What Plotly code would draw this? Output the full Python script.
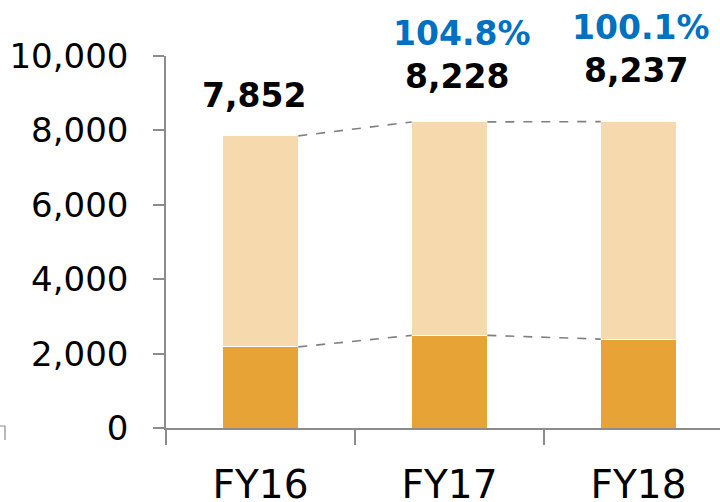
import plotly.graph_objects as go

categories = ["FY16", "FY17", "FY18"]
totals = [7852, 8228, 8237]
lower = [2180, 2490, 2390]
upper = [t - l for t, l in zip(totals, lower)]
growth = ["", "104.8%", "100.1%"]
y_ticks = [0, 2000, 4000, 6000, 8000, 10000]

LIGHT = "#F6DAAE"
DARK = "#E8A336"
AXIS = "#8C8C8C"
FONT = "DejaVu Sans"

W, H = 720, 502
ML, MR, MT, MB = 166, 0, 56, 74

fig = go.Figure()
fig.add_trace(go.Bar(x=categories, y=lower, marker=dict(color=DARK, line=dict(color="white", width=1)), width=0.4))
fig.add_trace(go.Bar(x=categories, y=upper, marker=dict(color=LIGHT, line=dict(color="white", width=1)), width=0.4))

# dashed connectors between neighbouring bars
for i in range(len(categories) - 1):
    for series in (totals, lower):
        fig.add_shape(type="line", xref="x", yref="y",
                      x0=i + 0.2, y0=series[i], x1=i + 0.8, y1=series[i + 1],
                      line=dict(color="#808080", width=1.6, dash="dash"))

total_shift = [40, 45, 51]
total_xshift = [-7, 7, -3]
pct_shift = [0, 88, 94]
pct_xshift = [0, 12, 2]
for i, c in enumerate(categories):
    fig.add_annotation(x=c, y=totals[i], xref="x", yref="y", text=f"<b>{totals[i]:,}</b>",
                       showarrow=False, yanchor="middle", yshift=total_shift[i], xshift=total_xshift[i],
                       font=dict(family=FONT, size=33, color="black"))
    if growth[i]:
        fig.add_annotation(x=c, y=totals[i], xref="x", yref="y", text=f"<b>{growth[i]}</b>",
                           showarrow=False, yanchor="middle", yshift=pct_shift[i], xshift=pct_xshift[i],
                           font=dict(family=FONT, size=33, color="#0070C0"))

# small bracket fragment at the bottom-left edge
pw = W - ML - MR
ph = H - MT - MB
def px(x):
    return (x - ML) / pw
def py(y):
    return (H - MB - y) / ph
fig.add_shape(type="path", xref="paper", yref="paper",
              path=f"M {px(0)},{py(426)} L {px(5)},{py(426)} L {px(5)},{py(440)}",
              line=dict(color=AXIS, width=1.2))

fig.update_layout(
    width=W, height=H,
    margin=dict(l=ML, r=MR, t=MT, b=MB),
    barmode="stack",
    showlegend=False,
    plot_bgcolor="white",
    paper_bgcolor="white",
    font=dict(family=FONT, color="black"),
    xaxis=dict(
        type="category",
        automargin=False,
        range=[-0.5, -0.5 + 3 * pw / 567],
        tickson="boundaries",
        ticks="outside", ticklen=15, tickwidth=1.5, tickcolor=AXIS,
        showline=True, linecolor=AXIS, linewidth=1.5,
        showgrid=False,
        ticklabelstandoff=21,
        tickfont=dict(family=FONT, size=39, color="black"),
    ),
    yaxis=dict(
        automargin=False,
        range=[0, 10000],
        tickvals=y_ticks,
        ticktext=[f"{v:,}" for v in y_ticks],
        ticks="outside", ticklen=11, tickwidth=1.5, tickcolor=AXIS,
        showline=True, linecolor=AXIS, linewidth=1.5,
        showgrid=False, zeroline=False,
        ticklabelstandoff=18,
        tickfont=dict(family=FONT, size=34, color="black"),
    ),
)

fig.write_html("out.html", config={"displayModeBar": False},
               post_script="document.body.style.margin='0';document.body.style.overflow='hidden';")
